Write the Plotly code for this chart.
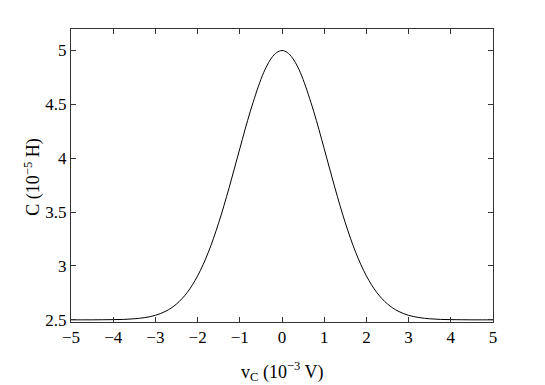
import plotly.graph_objects as go

# capacitance vs capacitor voltage
v_c = [-5.0, -4.75, -4.5, -4.25, -4.0, -3.75, -3.5, -3.25, -3.0, -2.75, -2.5,
       -2.25, -2.0, -1.75, -1.5, -1.25, -1.0, -0.75, -0.5, -0.375, -0.25, -0.125, 0.0,
       0.125, 0.25, 0.375, 0.5, 0.75, 1.0, 1.25, 1.5, 1.75, 2.0, 2.25, 2.5,
       2.75, 3.0, 3.25, 3.5, 3.75, 4.0, 4.25, 4.5, 4.75, 5.0]
cap = [2.500, 2.500, 2.500, 2.501, 2.502, 2.504, 2.510, 2.521, 2.542, 2.581, 2.647,
       2.752, 2.908, 3.123, 3.401, 3.731, 4.089, 4.437, 4.732, 4.846, 4.930, 4.982, 5.000,
       4.982, 4.930, 4.846, 4.732, 4.437, 4.089, 3.731, 3.401, 3.123, 2.908, 2.752, 2.647,
       2.581, 2.542, 2.521, 2.510, 2.504, 2.502, 2.501, 2.500, 2.500, 2.500]

x_ticks = [-5, -4, -3, -2, -1, 0, 1, 2, 3, 4, 5]
y_ticks = [2.5, 3, 3.5, 4, 4.5, 5]
y_labels = ["2.5", "3", "3.5", "4", "4.5", "5"]

x_title = "v<sub>C</sub> (10<sup>−3</sup> V)"
y_title = "C (10<sup>−5</sup> H)"

serif = "Liberation Serif, Times New Roman, serif"

fig = go.Figure()
fig.add_trace(go.Scatter(
    x=v_c, y=cap,
    mode="lines",
    line=dict(color="black", width=1, shape="spline", smoothing=1.0),
    showlegend=False,
))

axis_common = dict(
    showgrid=False, zeroline=False, automargin=False,
    showline=True, linecolor="#333333", linewidth=1, mirror="ticks",
    ticks="inside", ticklen=5, tickcolor="#333333", tickwidth=1,
    tickfont=dict(family=serif, size=17, color="black"),
)

# the page body adds an 8px offset, so margins are shifted to compensate
fig.update_layout(
    width=545, height=385,
    margin=dict(l=63, r=60, t=21, b=71),
    paper_bgcolor="white", plot_bgcolor="white",
    font=dict(family=serif, color="black"),
    xaxis=dict(range=[-5, 5], tickvals=x_ticks, **axis_common),
    yaxis=dict(range=[2.48, 5.2], tickvals=y_ticks, ticktext=y_labels,
               **axis_common),
)

# axis titles placed as annotations to sit where the original has them
fig.add_annotation(text=x_title, xref="paper", yref="paper",
                   x=0.5, y=-0.118, xanchor="center", yanchor="top",
                   showarrow=False, font=dict(family=serif, size=18))
fig.add_annotation(text=y_title, xref="paper", yref="paper",
                   x=-0.092, y=0.493, xanchor="center", yanchor="middle",
                   textangle=-90, showarrow=False,
                   font=dict(family=serif, size=18))

fig.write_html("out.html")
